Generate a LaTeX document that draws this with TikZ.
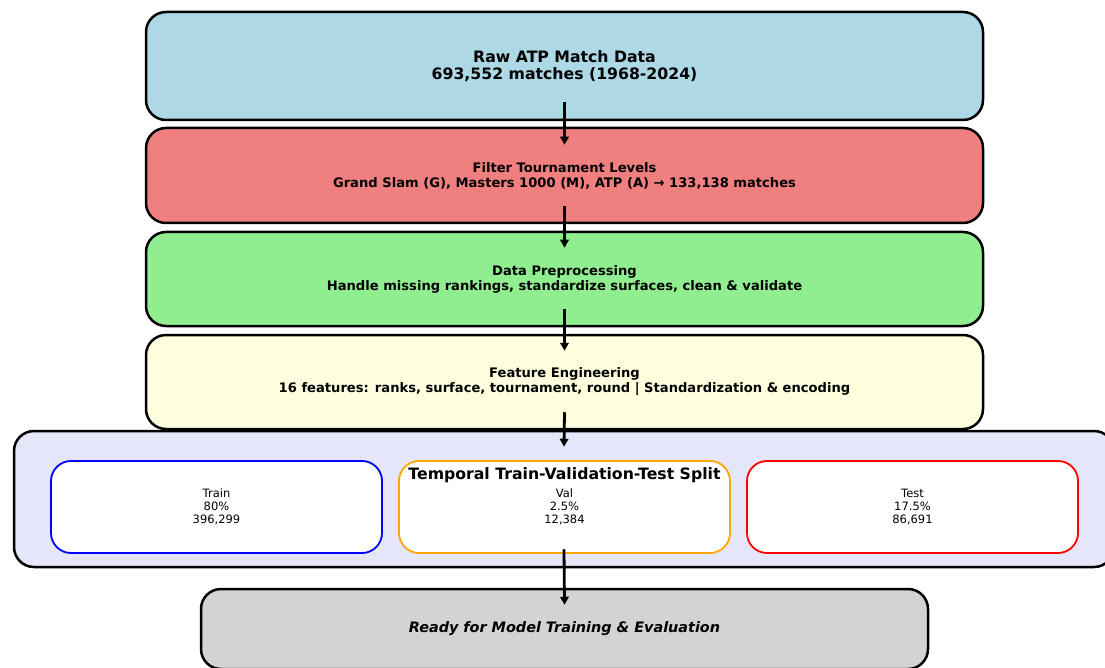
\documentclass[tikz,border=0pt]{standalone}
\usepackage{fontspec}
\setmainfont{DejaVu Sans}
\usetikzlibrary{arrows.meta}
\definecolor{cblue}{HTML}{ADD8E6}
\definecolor{ccoral}{HTML}{F08080}
\definecolor{cgreen}{HTML}{90EE90}
\definecolor{cyellow}{HTML}{FFFFE0}
\definecolor{clav}{HTML}{E6E6FA}
\definecolor{cgray}{HTML}{D3D3D3}
\definecolor{corange}{HTML}{FFA500}
\tikzset{
  stage/.style={draw=black, line width=2.5pt, rounded corners=20pt, inner sep=0pt, align=center, minimum width=837pt},
  part/.style={draw, line width=1.8pt, fill=white, rounded corners=20pt, inner sep=0pt, align=center, minimum width=331pt, minimum height=92pt, font=\fontsize{11.5}{13}\selectfont},
  big/.style={font=\fontsize{15.7}{17}\selectfont\bfseries},
  small/.style={font=\fontsize{13.1}{15}\selectfont\bfseries},
  arr/.style={line width=2.8pt, -{Triangle[length=8pt,width=8.5pt]}}
}
\begin{document}
\begin{tikzpicture}[x=1pt,y=-1pt]
\clip (0,0) rectangle (1105,668);
\fill[white] (0,0) rectangle (1105,668);
\node[stage, big, fill=cblue, minimum height=108pt] (b1) at (564.5,66) {Raw ATP Match Data\\693,552 matches (1968-2024)};
\node[stage, small, fill=ccoral, minimum height=95pt] (b2) at (564.5,175.5) {Filter Tournament Levels\\Grand Slam (G), Masters 1000 (M), ATP (A) → 133,138 matches};
\node[stage, small, fill=cgreen, minimum height=94pt] (b3) at (564.5,279) {Data Preprocessing\\Handle missing rankings, standardize surfaces, clean \& validate};
\node[stage, small, fill=cyellow, minimum height=94pt] (b4) at (564.5,382) {Feature Engineering\\16 features: ranks, surface, tournament, round | Standardization \& encoding};
\node[stage, fill=clav, minimum width=1100pt, minimum height=136pt] (split) at (564,499) {};
\node[part, draw=blue] (train) at (216.5,507) {Train\\80\%\\396,299};
\node[part, draw=corange] (val) at (564.5,507) {Val\\2.5\%\\12,384};
\node[part, draw=red] (test) at (912.5,507) {Test\\17.5\%\\86,691};
\node[big, inner sep=0pt] (title) at (564.5,475) {Temporal Train-Validation-Test Split};
\node[stage, fill=cgray, minimum width=727pt, minimum height=80pt, font=\fontsize{14.4}{16}\selectfont\bfseries\itshape] (final) at (564.5,629) {Ready for Model Training \& Evaluation};
\draw[arr] ([yshift=19pt]b1.south) -- ([yshift=-18pt]b2.north);
\draw[arr] ([yshift=18pt]b2.south) -- ([yshift=-17pt]b3.north);
\draw[arr] ([yshift=18pt]b3.south) -- ([yshift=-17pt]b4.north);
\draw[arr] ([yshift=18pt]b4.south) -- ([yshift=-17pt]split.north);
\draw[arr] ([yshift=19pt]split.south) -- ([yshift=-17pt]final.north);
\end{tikzpicture}
\end{document}
